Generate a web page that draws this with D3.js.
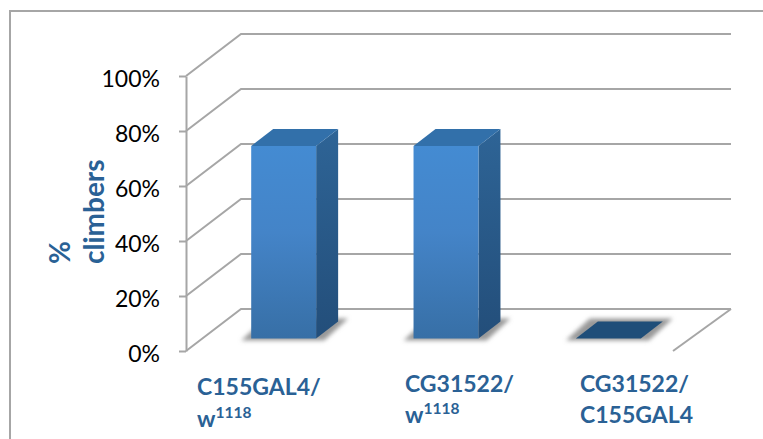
<!DOCTYPE html>
<html>
<head>
<meta charset="utf-8">
<script src="https://cdn.jsdelivr.net/npm/d3@7"></script>
<style>
  html, body { margin: 0; padding: 0; background: #fff; overflow: hidden; }
  text { font-family: Lato, "Open Sans", sans-serif; }
</style>
</head>
<body>
<script>
const categories = ["C155GAL4/w1118", "CG31522/w1118", "CG31522/C155GAL4"];
const climbers = [70, 70, 0];
const yTicks = [0, 20, 40, 60, 80, 100];
const categoryLines = [
  [["C155GAL4/", ""], ["w", "1118"]],
  [["CG31522/", ""], ["w", "1118"]],
  [["CG31522/", ""], ["C155GAL4", ""]]
];
const axisTitles = ["%", "climbers"];

const w = 763;
const h = 439;
const gridColor = "#a6a6a6";
const titleColor = "#2a6195";

const svg = d3.select("body").append("svg").attr("width", w).attr("height", h).style("display", "block");

// front plane of the 3d box
const x = d3.scaleBand().domain(categories).range([186, 673]).paddingInner(0.6).paddingOuter(0.3);
const y = d3.scaleLinear().domain([0, 100]).range([351, 76]);
// depth: 0 is the front plane, 1 the back wall
const zx = d3.scaleLinear().domain([0, 1]).range([0, 55]);
const zy = d3.scaleLinear().domain([0, 1]).range([0, -42]);
const barFront = 0.3;
const barBack = 0.7;
const wallEnd = 731;
const line = d3.line();
const pt = (px, v, z) => [px + zx(z), y(v) + zy(z)];

const defs = svg.append("defs");
const front = defs.append("linearGradient").attr("id", "front").attr("x1", 0).attr("y1", 0).attr("x2", 0).attr("y2", 1);
front.append("stop").attr("offset", "0%").attr("stop-color", "#448bd2");
front.append("stop").attr("offset", "45%").attr("stop-color", "#4484c8");
front.append("stop").attr("offset", "100%").attr("stop-color", "#376fa6");
const side = defs.append("linearGradient").attr("id", "side").attr("x1", 0).attr("y1", 0).attr("x2", 0).attr("y2", 1);
side.append("stop").attr("offset", "0%").attr("stop-color", "#2e6496");
side.append("stop").attr("offset", "100%").attr("stop-color", "#234e7a");
defs.append("filter").attr("id", "soft").attr("x", "-30%").attr("y", "-100%").attr("width", "160%").attr("height", "300%")
  .append("feGaussianBlur").attr("stdDeviation", 2);

// outer frame, only top and left are in the picture
svg.append("path")
  .attr("d", line([[10, h], [10, 11], [w, 11]]))
  .attr("fill", "none").attr("stroke", gridColor).attr("stroke-width", 2);

// gridlines: side wall diagonal + back wall line
const grid = svg.append("g").attr("fill", "none").attr("stroke", gridColor).attr("stroke-width", 2);
grid.selectAll("path")
  .data(yTicks)
  .enter()
  .append("path")
  .attr("d", d => line([pt(186, d, 0), pt(186, d, 1), [wallEnd, pt(186, d, 1)[1]]]));
// right edge of the floor
grid.append("path").attr("d", line([[x.range()[1], y(0)], [wallEnd, pt(186, 0, 1)[1]]]));

// left axis
const yAxis = d3.axisLeft(y).tickValues(yTicks).tickFormat(d => d + "%").tickSize(7).tickPadding(19).tickSizeOuter(0);
const axisG = svg.append("g").attr("transform", "translate(186,0)").call(yAxis);
axisG.selectAll("path, line").attr("stroke", gridColor).attr("stroke-width", 2);
axisG.selectAll("text").attr("dy", "10px").attr("fill", "#000").style("font-size", "23px");

const floorShape = d => {
  const x0 = x(d.c), x1 = x0 + x.bandwidth();
  return [pt(x0, 0, barFront), pt(x1, 0, barFront), pt(x1, 0, barBack), pt(x0, 0, barBack)];
};
const rows = categories.map((c, i) => ({ c: c, v: climbers[i] }));

// floor shadows
svg.append("g").selectAll("path")
  .data(rows)
  .enter()
  .append("path")
  .attr("d", d => {
    const s = floorShape(d);
    return line([[s[0][0] - 10, s[0][1] + 2], [s[1][0] + 8, s[1][1] + 2], [s[2][0] + 10, s[2][1] - 3], [s[3][0] - 8, s[3][1] - 3]]) + "Z";
  })
  .attr("fill", "#999")
  .attr("filter", "url(#soft)");

// bars: front, side and top faces
const bars = svg.append("g").selectAll("g").data(rows).enter().append("g");
bars.filter(d => d.v > 0).append("path")
  .attr("d", d => {
    const x1 = x(d.c) + x.bandwidth();
    return line([pt(x1, 0, barFront), pt(x1, 0, barBack), pt(x1, d.v, barBack), pt(x1, d.v, barFront)]) + "Z";
  })
  .attr("fill", "url(#side)");
bars.append("path")
  .attr("d", d => {
    const x0 = x(d.c), x1 = x0 + x.bandwidth();
    return line([pt(x0, d.v, barFront), pt(x1, d.v, barFront), pt(x1, d.v, barBack), pt(x0, d.v, barBack)]) + "Z";
  })
  .attr("fill", d => d.v > 0 ? "#3270aa" : "#1f4e79");
bars.filter(d => d.v > 0).append("path")
  .attr("d", d => {
    const x0 = x(d.c), x1 = x0 + x.bandwidth();
    return line([pt(x0, 0, barFront), pt(x1, 0, barFront), pt(x1, d.v, barFront), pt(x0, d.v, barFront)]) + "Z";
  })
  .attr("fill", "url(#front)");

// category labels, hand placed like in the original slide
const labelX = [197, 405, 580];
const labelY = [[395, 427], [392, 423], [392, 423]];
const labels = svg.append("g").attr("fill", titleColor).attr("font-weight", 700).style("font-size", "23px");
categoryLines.forEach((lines, i) => {
  lines.forEach((l, j) => {
    const t = labels.append("text").attr("x", labelX[i]).attr("y", labelY[i][j]).text(l[0]);
    if (l[1]) t.append("tspan").attr("dy", -9).style("font-size", "15.5px").text(l[1]);
  });
});

// y title, two rotated lines
svg.append("g").attr("fill", titleColor).attr("font-weight", 700).style("font-size", "28px")
  .selectAll("text")
  .data(axisTitles)
  .enter()
  .append("text")
  .attr("transform", (d, i) => `translate(${i == 0 ? 70 : 104},264) rotate(-90)`)
  .text(d => d);
</script>
</body>
</html>
